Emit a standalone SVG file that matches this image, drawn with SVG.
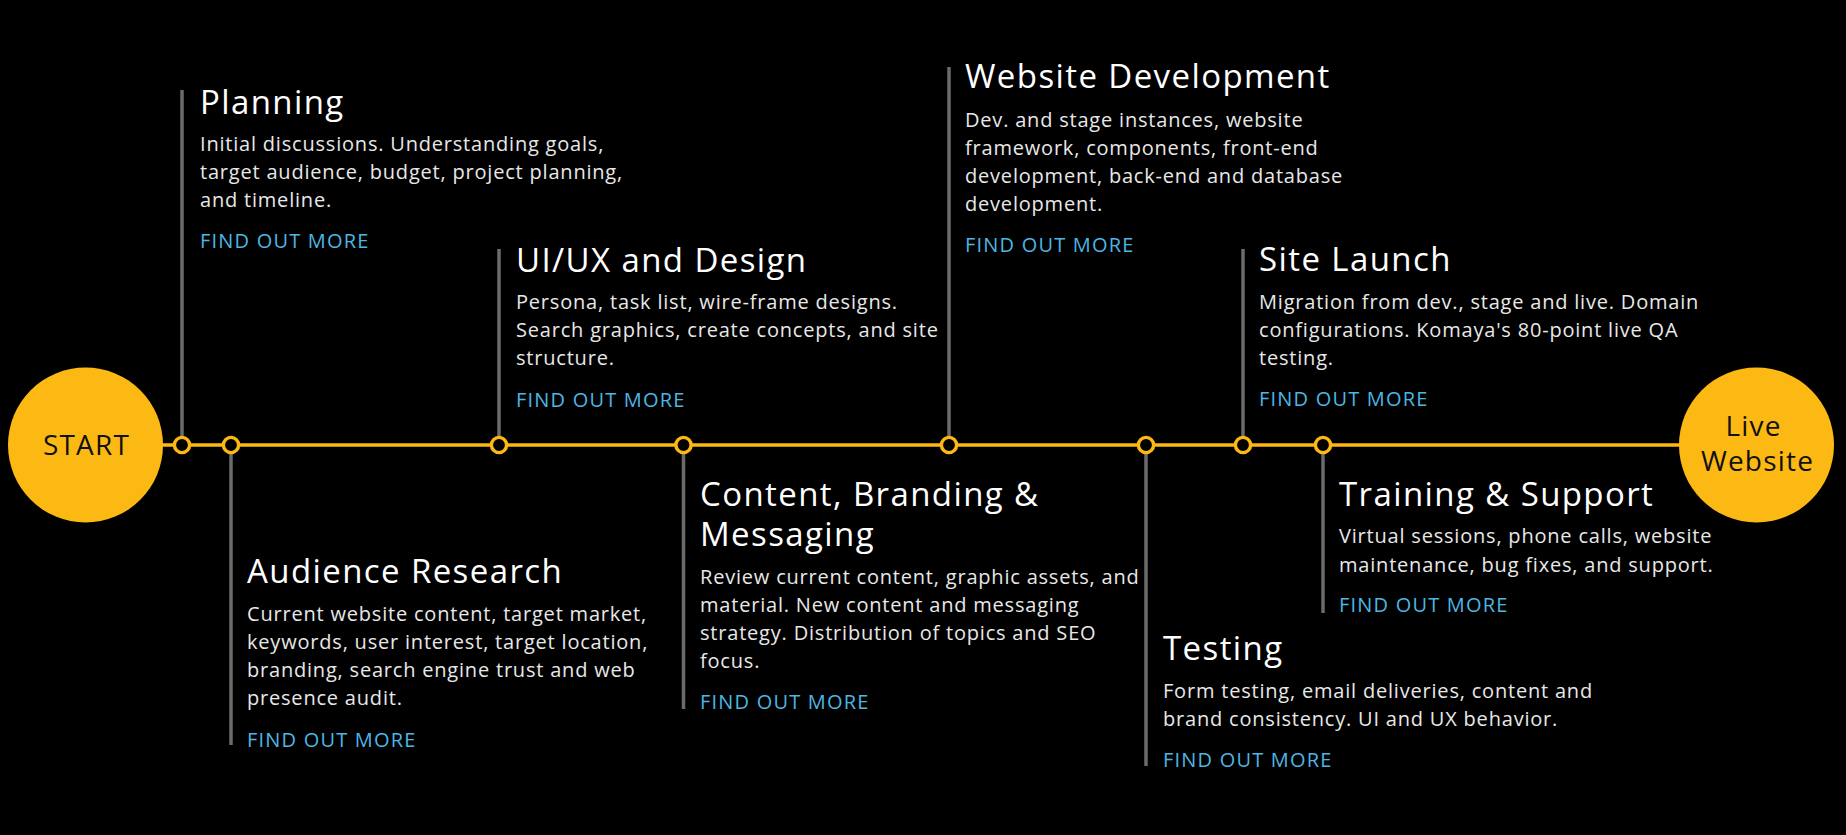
<svg xmlns="http://www.w3.org/2000/svg" width="1846" height="835" viewBox="0 0 1846 835">
<style>
.bg{fill:#000}
.stem{stroke:#6b6b6b;stroke-width:3.5;fill:none}
.dot{fill:#000;stroke:#FDB913;stroke-width:3.4}
.tl{stroke:#FDB913;stroke-width:3.4;fill:none}
.big{fill:#FDB913}
.bigt{font-family:"Open Sans","Liberation Sans",sans-serif;font-size:28px;letter-spacing:1.2px;fill:#111;text-anchor:middle}
.title{font-family:"Open Sans","Liberation Sans",sans-serif;font-size:33px;letter-spacing:1.4px;font-weight:500;fill:#fff}
.body{font-family:"Open Sans","Liberation Sans",sans-serif;font-size:20px;letter-spacing:0.8px;fill:#e8e8e8}
.link{font-family:"Open Sans","Liberation Sans",sans-serif;font-size:20px;letter-spacing:1.2px;fill:#4db6e3}
</style>
<rect class="bg" x="0" y="0" width="1846" height="835"/>
<g id="connectors">
<line class="tl" x1="160" y1="445" x2="1682" y2="445"/>
</g>
<g id="start">
<circle class="big" cx="85.5" cy="445" r="77.5"/>
<text class="bigt" x="86.5" y="454.5">START</text>
</g>
<g id="live-website">
<circle class="big" cx="1756.5" cy="445" r="77.5"/>
<text class="bigt" x="1753.5" y="436">Live</text>
<text class="bigt" x="1757.5" y="471">Website</text>
</g>
<g id="planning">
<line class="stem" x1="182" y1="90" x2="182" y2="445"/>
<circle class="dot" cx="182" cy="445" r="7.6"/>
<text class="title" x="200" y="114">Planning</text>
<text class="body"><tspan x="200" y="151">Initial discussions. Understanding goals,</tspan><tspan x="200" y="179">target audience, budget, project planning,</tspan><tspan x="200" y="207">and timeline.</tspan></text>
<text class="link" x="200" y="248">FIND OUT MORE</text>
</g>
<g id="audience-research">
<line class="stem" x1="231" y1="445" x2="231" y2="745"/>
<circle class="dot" cx="231" cy="445" r="7.6"/>
<text class="title" x="247" y="583">Audience Research</text>
<text class="body"><tspan x="247" y="621">Current website content, target market,</tspan><tspan x="247" y="649">keywords, user interest, target location,</tspan><tspan x="247" y="677">branding, search engine trust and web</tspan><tspan x="247" y="705">presence audit.</tspan></text>
<text class="link" x="247" y="747">FIND OUT MORE</text>
</g>
<g id="uiux-design">
<line class="stem" x1="499" y1="249" x2="499" y2="445"/>
<circle class="dot" cx="499" cy="445" r="7.6"/>
<text class="title" x="516" y="272">UI/UX and Design</text>
<text class="body"><tspan x="516" y="309">Persona, task list, wire-frame designs.</tspan><tspan x="516" y="337">Search graphics, create concepts, and site</tspan><tspan x="516" y="365">structure.</tspan></text>
<text class="link" x="516" y="407">FIND OUT MORE</text>
</g>
<g id="content-branding">
<line class="stem" x1="683.5" y1="445" x2="683.5" y2="709"/>
<circle class="dot" cx="683.5" cy="445" r="7.6"/>
<text class="title"><tspan x="700" y="506">Content, Branding &amp;</tspan><tspan x="700" y="546">Messaging</tspan></text>
<text class="body"><tspan x="700" y="584">Review current content, graphic assets, and</tspan><tspan x="700" y="612">material. New content and messaging</tspan><tspan x="700" y="640">strategy. Distribution of topics and SEO</tspan><tspan x="700" y="668">focus.</tspan></text>
<text class="link" x="700" y="709">FIND OUT MORE</text>
</g>
<g id="website-development">
<line class="stem" x1="949" y1="67" x2="949" y2="445"/>
<circle class="dot" cx="949" cy="445" r="7.6"/>
<text class="title" x="965" y="88">Website Development</text>
<text class="body"><tspan x="965" y="127">Dev. and stage instances, website</tspan><tspan x="965" y="155">framework, components, front-end</tspan><tspan x="965" y="183">development, back-end and database</tspan><tspan x="965" y="211">development.</tspan></text>
<text class="link" x="965" y="252">FIND OUT MORE</text>
</g>
<g id="testing">
<line class="stem" x1="1146" y1="445" x2="1146" y2="766"/>
<circle class="dot" cx="1146" cy="445" r="7.6"/>
<text class="title" x="1163" y="660">Testing</text>
<text class="body"><tspan x="1163" y="698">Form testing, email deliveries, content and</tspan><tspan x="1163" y="726">brand consistency. UI and UX behavior.</tspan></text>
<text class="link" x="1163" y="767">FIND OUT MORE</text>
</g>
<g id="site-launch">
<line class="stem" x1="1243" y1="249" x2="1243" y2="445"/>
<circle class="dot" cx="1243" cy="445" r="7.6"/>
<text class="title" x="1259" y="271">Site Launch</text>
<text class="body"><tspan x="1259" y="309">Migration from dev., stage and live. Domain</tspan><tspan x="1259" y="337">configurations. Komaya's 80-point live QA</tspan><tspan x="1259" y="365">testing.</tspan></text>
<text class="link" x="1259" y="406">FIND OUT MORE</text>
</g>
<g id="training-support">
<line class="stem" x1="1323" y1="445" x2="1323" y2="613"/>
<circle class="dot" cx="1323" cy="445" r="7.6"/>
<text class="title" x="1339" y="506">Training &amp; Support</text>
<text class="body"><tspan x="1339" y="543">Virtual sessions, phone calls, website</tspan><tspan x="1339" y="572">maintenance, bug fixes, and support.</tspan></text>
<text class="link" x="1339" y="612">FIND OUT MORE</text>
</g>
</svg>
